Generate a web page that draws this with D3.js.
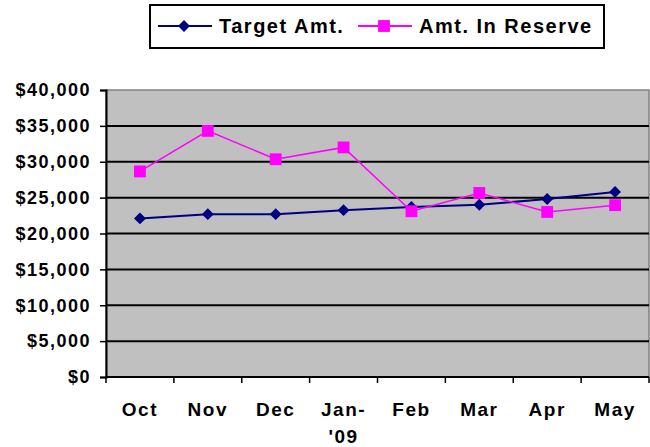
<!DOCTYPE html>
<html>
<head>
<meta charset="utf-8">
<script src="https://cdn.jsdelivr.net/npm/d3@7"></script>
<style>
  body { margin: 0; background: #fff; }
  text { font-family: Arial, "Liberation Sans", sans-serif; font-weight: bold; fill: #000; }
</style>
</head>
<body>
<svg width="650" height="447"></svg>
<script>
var months = ['Oct', 'Nov', 'Dec', 'Jan-\n\'09', 'Feb', 'Mar', 'Apr', 'May']
var targetAmt = [22100, 22700, 22700, 23250, 23700, 24000, 24800, 25800]
var reserveAmt = [28650, 34300, 30350, 32000, 23100, 25650, 23000, 23950]
var yTicks = [0, 5000, 10000, 15000, 20000, 25000, 30000, 35000, 40000]

var svg = d3.select('svg')
var plotLeft = 106, plotRight = 649, plotTop = 90, plotBottom = 377

var xScale = d3.scaleBand().domain(months).range([plotLeft, plotRight])
var yScale = d3.scaleLinear().domain([0, 40000]).range([plotBottom, plotTop])
var navy = '#000080', magenta = '#ff00ff'

// plot area
svg.append('rect')
    .attr('x', plotLeft).attr('y', plotTop)
    .attr('width', plotRight - plotLeft).attr('height', plotBottom - plotTop)
    .style('fill', '#c0c0c0')
    .style('stroke', '#808080')
    .style('stroke-width', 1.5)

// gridlines
svg.selectAll('line.grid')
    .data(yTicks.filter(d => d > 0 && d < 40000))
    .enter()
    .append('line')
    .attr('class', 'grid')
    .attr('x1', plotLeft).attr('x2', plotRight)
    .attr('y1', d => yScale(d)).attr('y2', d => yScale(d))
    .style('stroke', '#000')
    .style('stroke-width', 2)

// y axis
var yAxis = d3.axisLeft(yScale)
    .tickValues(yTicks)
    .tickSize(6)
    .tickPadding(9)
    .tickFormat(d => '$' + d3.format(',')(d))
var yG = svg.append('g').attr('transform', 'translate(' + plotLeft + ',0)').call(yAxis)
yG.select('.domain').style('stroke-width', 2)
yG.selectAll('.tick line').style('stroke-width', 1.5)
yG.selectAll('.tick text')
    .style('font-size', '18px')
    .style('letter-spacing', '1.5px')
    .style('font-family', 'Arial, "Liberation Sans", sans-serif')
    .style('font-weight', 'bold')

// x axis: ticks at category boundaries
var xG = svg.append('g').attr('transform', 'translate(0,' + plotBottom + ')')
xG.append('line')
    .attr('x1', plotLeft).attr('x2', plotRight)
    .style('stroke', '#000').style('stroke-width', 2)
var bounds = months.map(d => xScale(d)).concat([plotRight])
xG.selectAll('line.tk')
    .data(bounds)
    .enter()
    .append('line')
    .attr('class', 'tk')
    .attr('x1', d => d).attr('x2', d => d)
    .attr('y1', 0).attr('y2', 6)
    .style('stroke', '#000').style('stroke-width', 1.5)
var xl = xG.selectAll('text.xl')
    .data(months)
    .enter()
    .append('text')
    .attr('class', 'xl')
    .attr('text-anchor', 'middle')
    .attr('y', 39)
    .style('font-size', '19px')
    .style('letter-spacing', '1.5px')
xl.selectAll('tspan')
    .data(d => d.split('\n').map(s => ({ m: d, s: s })))
    .enter()
    .append('tspan')
    .attr('x', d => xScale(d.m) + xScale.bandwidth() / 2)
    .attr('dy', (d, i) => i ? 27 : 0)
    .text(d => d.s)

var cx = (d, i) => xScale(months[i]) + xScale.bandwidth() / 2
var line = d3.line().x(cx).y(d => yScale(d))

svg.append('path')
    .datum(targetAmt)
    .attr('d', line)
    .style('fill', 'none').style('stroke', navy).style('stroke-width', 2)
svg.append('path')
    .datum(reserveAmt)
    .attr('d', line)
    .style('fill', 'none').style('stroke', magenta).style('stroke-width', 1.5)

var diamond = d3.symbol().type(d3.symbolDiamond2).size(90)
var square = d3.symbol().type(d3.symbolSquare).size(140)

svg.selectAll('path.target')
    .data(targetAmt)
    .enter()
    .append('path')
    .attr('class', 'target')
    .attr('d', diamond)
    .attr('transform', (d, i) => 'translate(' + cx(d, i) + ',' + yScale(d) + ')')
    .style('fill', navy)
svg.selectAll('path.reserve')
    .data(reserveAmt)
    .enter()
    .append('path')
    .attr('class', 'reserve')
    .attr('d', square)
    .attr('transform', (d, i) => 'translate(' + cx(d, i) + ',' + yScale(d) + ')')
    .style('fill', magenta)

// legend
var lg = svg.append('g')
lg.append('rect')
    .attr('x', 150).attr('y', 5).attr('width', 454).attr('height', 43)
    .style('fill', '#fff').style('stroke', '#000').style('stroke-width', 2)
var items = [{ name: 'Target Amt.', color: navy, sym: diamond, x: 158 },
{ name: 'Amt. In Reserve', color: magenta, sym: square, x: 358 }]
items.forEach(function (it) {
    lg.append('line')
        .attr('x1', it.x).attr('x2', it.x + 54)
        .attr('y1', 26).attr('y2', 26)
        .style('stroke', it.color).style('stroke-width', 2)
    lg.append('path')
        .attr('d', it.sym)
        .attr('transform', 'translate(' + (it.x + 26) + ',26)')
        .style('fill', it.color)
    lg.append('text')
        .attr('x', it.x + 61).attr('y', 33)
        .style('font-size', '20px')
        .style('letter-spacing', '1.5px')
        .text(it.name)
})
</script>
</body>
</html>
